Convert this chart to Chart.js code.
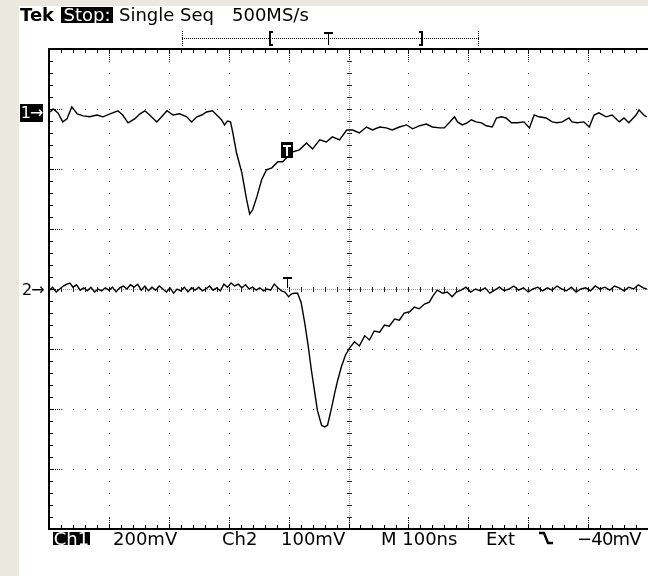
<!DOCTYPE html>
<html>
<head>
<meta charset="utf-8">
<script src="https://cdn.jsdelivr.net/npm/chart.js@4.4.1/dist/chart.umd.min.js"></script>
<style>
  html, body { margin: 0; padding: 0; }
  body { width: 648px; height: 576px; background: #ebe9df; position: relative; overflow: hidden;
         font-family: "DejaVu Sans", sans-serif; }
  #panel { position: absolute; left: 19px; top: 6px; right: 0; bottom: 0; background: #fff; }
  #c { position: absolute; left: 0; top: 0; }
  .t { position: absolute; font-size: 18px; line-height: 13px; height: 13px; color: #000; white-space: pre; }
  .inv { background: #000; color: #fff; text-align: center; }
  .mk { font-size: 16px; letter-spacing: -1px; }
</style>
</head>
<body>
<div id="panel"></div>
<canvas id="c" width="648" height="576"></canvas>

<!-- en-tête de l'oscilloscope -->
<div class="t" style="left:20px;top:8px;font-weight:bold">Tek</div>
<div class="t inv" style="left:61px;top:7px;width:52px;height:16px;line-height:16px">Stop:</div>
<div class="t" style="left:119px;top:8px">Single Seq</div>
<div class="t" style="left:232px;top:8px">500MS/s</div>

<!-- repères des voies -->
<div class="t inv mk" style="left:20px;top:104px;width:23px;height:18px;line-height:18px">1→</div>
<div class="t mk" style="left:22px;top:283px;height:13px;line-height:13px">2→</div>

<!-- pied : calibres -->
<div class="t inv" style="left:53px;top:532px;width:37px">Ch1</div>
<div class="t" style="left:113px;top:532px">200mV</div>
<div class="t" style="left:222px;top:532px">Ch2</div>
<div class="t" style="left:281px;top:532px">100mV</div>
<div class="t" style="left:381px;top:532px">M 100ns</div>
<div class="t" style="left:486px;top:532px">Ext</div>
<svg style="position:absolute;left:537px;top:530px" width="18" height="16">
  <polyline points="2,3 7,3 11,13 16,13" fill="none" stroke="#000" stroke-width="2.4"/>
</svg>
<div class="t" style="left:577px;top:532px;letter-spacing:-0.8px">−40mV</div>

<script>
/* Graduations : 10 divisions de 100 ns, 8 divisions */
const X_DIV = [0, 100, 200, 300, 400, 500, 600, 700, 800, 900, 1000];   // ns
const Y_DIV = [-400, -300, -200, -100, 0, 100, 200, 300, 400];          // mV (Ch2, 100 mV/div)
const X_SUB = 20;   // 1/5 div
const Y_SUB = 20;

const CH1_T = [2,7,15,23,30,38,47,57,68,80,90,102,115,123,132,143,152,160,168,180,
  188,197,207,218,230,238,247,255,263,273,280,288,293,298,303,307,313,322,330,335,
  340,347,355,363,372,382,390,398,407,418,430,440,452,463,473,485,497,507,518,530,
  540,552,563,573,585,597,607,618,630,640,652,660,668,677,682,690,698,705,713,722,
  730,740,747,755,763,772,782,793,802,810,818,830,840,848,857,868,873,882,893,902,
  910,918,930,940,952,960,968,980,985,993,998];
const CH1_MV = [3,13,0,-30,-20,20,-3,-10,-13,-7,-13,-3,7,-7,-33,-20,-3,7,-7,-30,
  -13,7,-7,-3,-13,-30,-13,-7,3,7,-7,-23,-40,-27,-30,-67,-133,-200,-290,-337,
  -323,-280,-223,-190,-183,-163,-163,-147,-130,-123,-100,-120,-90,-97,-80,-90,-57,-57,-67,-47,
  -57,-47,-50,-57,-47,-40,-53,-43,-37,-47,-50,-50,-33,-13,-30,-40,-33,-23,-30,-33,
  -43,-47,-17,-13,-17,-33,-33,-30,-50,-7,-13,-17,-30,-33,-30,-17,-30,-33,-30,-47,
  -7,0,-13,-7,-30,-17,-33,-7,10,-7,-13];

/* Voie 2 (100 mV/div) */
const CH2_T = [0,6,12,18,24,30,35,40,46,52,58,64,70,76,82,88,94,100,106,112,
  118,124,130,136,142,148,154,160,166,172,178,184,190,196,202,208,214,220,226,232,
  238,244,250,256,262,268,274,280,286,292,298,304,310,316,322,328,334,340,346,352,
  358,364,370,376,382,388,394,
  400,405,410,415,421,427,433,438,443,448,455,460,465,472,477,482,488,495,502,510,
  518,527,535,543,552,560,568,577,585,593,602,610,618,627,635,640,648,657,665,673,680,
  688,696,704,712,720,728,736,744,752,760,768,776,784,792,800,808,816,824,832,840,
  848,856,864,872,880,888,896,904,912,920,928,936,944,952,960,968,976,984,992,998];
const CH2_MV = [-3,3,-5,0,5,8,10,3,7,-2,2,-3,3,-5,0,-3,2,-2,3,-5,
  2,5,0,7,3,8,-2,5,-3,3,-2,5,0,-5,2,-7,0,-3,3,-5,
  2,-2,3,-3,0,5,-2,2,-3,8,3,10,5,8,2,7,0,3,-2,2,
  -3,0,-2,8,2,-3,-5,
  -13,-8,-7,-7,-23,-57,-97,-135,-168,-202,-227,-230,-227,-197,-173,-152,-130,-110,-98,-88,
  -95,-78,-85,-70,-72,-60,-62,-50,-52,-40,-38,-30,-33,-25,-22,-13,-2,-7,-5,-13,-5,
  -2,3,-5,0,-3,2,-7,-2,3,-3,0,5,-2,2,-5,0,3,-3,2,-2,
  5,0,-3,3,-5,0,2,-3,5,0,3,-2,5,2,-3,3,0,7,2,0];

/* Déclenchement */
const TRIG_T = 397;        // ns
const TRIG_CH1 = -123;     // mV, position du repère T sur la voie 1
const TRIG_CH2 = 2;        // mV

/* Cadre : 1 div = 200 mV sur Ch1, masse Ch1 à +2,93 div */
const CH1_MIN = -1387, CH1_MAX = 213;

const pts = (ts, vs) => ts.map((t, i) => ({ x: t, y: vs[i] }));

/* Réticule façon Tektronix : points au 1/5 de division, axes centraux gradués */
const graticule = {
  id: 'graticule',
  beforeDatasetsDraw(chart) {
    const { ctx, chartArea: a, scales: { x, y2 } } = chart;
    const px = t => Math.round(x.getPixelForValue(t));
    const py = v => Math.round(y2.getPixelForValue(v));
    const xMin = X_DIV[0], xMax = X_DIV[X_DIV.length - 1];
    const yMin = Y_DIV[0], yMax = Y_DIV[Y_DIV.length - 1];
    const xc = px(500), yc = py(0);
    ctx.save();

    // points le long des lignes principales
    ctx.fillStyle = '#333';
    X_DIV.forEach(t => {
      if (t === xMin || t === xMax || t === 500) return;
      for (let v = yMin; v <= yMax; v += Y_SUB) ctx.fillRect(px(t), py(v), 1, 1);
    });
    Y_DIV.forEach(v => {
      if (v === yMin || v === yMax || v === 0) return;
      for (let t = xMin; t <= xMax; t += X_SUB) ctx.fillRect(px(t), py(v), 1, 1);
    });

    // axes centraux pointillés
    ctx.fillStyle = '#999';
    for (let yy = a.top; yy < a.bottom; yy += 2) ctx.fillRect(xc, yy, 1, 1);
    for (let xx = a.left; xx < a.right; xx += 2) ctx.fillRect(xx, yc, 1, 1);
    ctx.fillStyle = '#222';
    for (let v = yMin; v <= yMax; v += Y_SUB) ctx.fillRect(xc - 2, py(v), 5, 1);
    for (let t = xMin; t <= xMax; t += X_SUB) ctx.fillRect(px(t), yc - 2, 1, 5);

    // graduations sur le cadre
    ctx.fillStyle = '#000';
    for (let t = xMin; t <= xMax; t += X_SUB) {
      ctx.fillRect(px(t), a.top, 1, 4);
      ctx.fillRect(px(t), a.bottom - 4, 1, 4);
    }
    for (let v = yMin; v <= yMax; v += Y_SUB) ctx.fillRect(a.left, py(v), 4, 1);
    X_DIV.forEach(t => {
      for (let i = 0; i < 11; i += 2) {
        ctx.fillRect(px(t), a.top + i, 1, 1);
        ctx.fillRect(px(t), a.bottom - 1 - i, 1, 1);
      }
    });
    Y_DIV.forEach(v => {
      for (let i = 0; i < 11; i += 2) ctx.fillRect(a.left + i, py(v), 1, 1);
    });

    // cadre
    ctx.fillRect(a.left - 1, a.top - 1, a.right - a.left + 1, 2);
    ctx.fillRect(a.left - 1, a.bottom - 1, a.right - a.left + 1, 2);
    ctx.fillRect(a.left - 1, a.top - 1, 2, a.bottom - a.top + 1);
    ctx.restore();
  },
  afterDatasetsDraw(chart) {
    const { ctx, scales: { x, y1, y2 } } = chart;
    ctx.save();
    // repère T sur la voie 1 (inversé)
    const tx = Math.round(x.getPixelForValue(TRIG_T));
    const t1 = Math.round(y1.getPixelForValue(TRIG_CH1));
    ctx.fillStyle = '#000';
    ctx.fillRect(tx - 6, t1 - 8, 12, 16);
    ctx.fillStyle = '#fff';
    ctx.fillRect(tx - 4, t1 - 5, 8, 2);
    ctx.fillRect(tx - 1, t1 - 5, 2, 11);
    // repère T sur la voie 2
    const t2 = Math.round(y2.getPixelForValue(TRIG_CH2));
    ctx.fillStyle = '#000';
    ctx.fillRect(tx - 4, t2 - 11, 9, 2);
    ctx.fillRect(tx, t2 - 11, 1, 11);

    // barre d'enregistrement en haut : [ T ]
    const yb = 38;
    for (let xx = 182; xx <= 478; xx += 2) ctx.fillRect(xx, yb, 1, 1);
    for (let yy = 31; yy <= 45; yy += 2) { ctx.fillRect(182, yy, 1, 1); ctx.fillRect(478, yy, 1, 1); }
    ctx.fillRect(269, 31, 2, 15); ctx.fillRect(269, 31, 4, 2); ctx.fillRect(269, 44, 4, 2);
    ctx.fillRect(421, 31, 2, 15); ctx.fillRect(419, 31, 4, 2); ctx.fillRect(419, 44, 4, 2);
    ctx.fillRect(324, 32, 9, 2); ctx.fillRect(328, 32, 1, 13);
    ctx.restore();
  }
};

new Chart(document.getElementById('c'), {
  type: 'line',
  data: {
    datasets: [
      { label: 'Ch1', data: pts(CH1_T, CH1_MV), yAxisID: 'y1',
        borderColor: '#000', borderWidth: 1.4, pointRadius: 0, tension: 0 },
      { label: 'Ch2', data: pts(CH2_T, CH2_MV), yAxisID: 'y2',
        borderColor: '#000', borderWidth: 1.4, pointRadius: 0, tension: 0 }
    ]
  },
  options: {
    responsive: false,
    animation: false,
    layout: { padding: { left: 49, top: 49, right: 0, bottom: 47 } },
    plugins: { legend: { display: false }, tooltip: { enabled: false } },
    scales: {
      x: { type: 'linear', min: X_DIV[0], max: X_DIV[X_DIV.length - 1], display: false },
      y1: { min: CH1_MIN, max: CH1_MAX, display: false },
      y2: { min: Y_DIV[0], max: Y_DIV[Y_DIV.length - 1], display: false }
    }
  },
  plugins: [graticule]
});
</script>
</body>
</html>
